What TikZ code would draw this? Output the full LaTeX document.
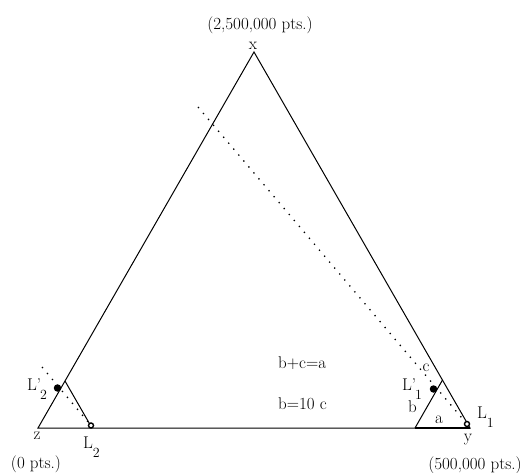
\documentclass[tikz,border=0pt]{standalone}
\newcommand\Lsub[1]{L\raisebox{-9pt}{\fontsize{14}{14}\selectfont #1}}
\newcommand\Lpsub[1]{L\raisebox{1pt}{'}\kern-1pt\raisebox{-8.5pt}{\fontsize{14}{14}\selectfont #1}}
\begin{document}
\begin{tikzpicture}[x=1pt,y=-1pt,
  edge/.style={line width=1pt},
  thickedge/.style={line width=2.6pt},
  dotline/.style={line width=1.3pt, dash pattern=on 1.3pt off 6.5pt},
  lbl/.style={font=\fontsize{17}{17}\selectfont, inner sep=0pt, anchor=base},
  lbll/.style={lbl, anchor=base west},
  bigdot/.style={circle, fill=black, inner sep=0pt, minimum size=7.5pt},
  ring/.style={circle, draw=black, line width=1.4pt, fill=white, inner sep=0pt, minimum size=5pt}]
\useasboundingbox (0,0) rectangle (528,473);
% main triangle
\coordinate (X) at (254,52);
\coordinate (Z) at (38,428);
\coordinate (Y) at (470,428);
% small triangles
\coordinate (S2) at (65,381);
\coordinate (B2) at (92,428);
\coordinate (A1) at (415,428);
\coordinate (S1) at (442.5,380);
% dotted line ends
\coordinate (P1) at (198,107);
\coordinate (P2) at (42,367);

\draw[edge] (Z) -- (X) -- (Y) -- cycle;
\draw[edge] (S2) -- (B2);
\draw[edge] (A1) -- (S1);
\draw[thickedge] (A1) -- (Y);

\node[ring] (L2) at (91,425.5) {};
\node[ring] (L1) at (467,424) {};
\draw[dotline] (P1) -- (L1);
\draw[dotline] (P2) -- (L2);
\node[bigdot] (Lp2) at (57.5,388) {};
\node[bigdot] (Lp1) at (433.5,389) {};

% labels
\node[lbl] (tx) at (260,30) {(2,500,000 pts.)};
\node[lbl] (lx) at (253,50) {x};
\node[lbl] (lz) at (37,439) {z};
\node[lbl] (tz) at (36,468) {(0 pts.)};
\node[lbl] (ly) at (468,441) {y};
\node[lbl] (ty) at (475,469) {(500,000 pts.)};
\node[lbll] (lL2) at (83,448) {\Lsub{2}};
\node[lbll] (lL1) at (477,418) {\Lsub{1}};
\node[lbll] (lLp2) at (27,391) {\Lpsub{2}};
\node[lbll] (lLp1) at (402,391) {\Lpsub{1}};
\node[lbl] (lc) at (426,372) {c};
\node[lbl] (lb) at (412.5,413) {b};
\node[lbl] (la) at (439,423) {a};
\node[lbll] (eq1) at (278,369) {b+c=a};
\node[lbll] (eq2) at (278,409) {b=10 c};
\end{tikzpicture}
\end{document}
